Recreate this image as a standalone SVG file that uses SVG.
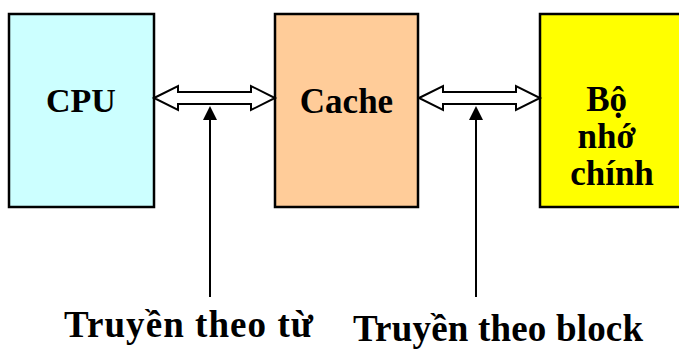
<svg xmlns="http://www.w3.org/2000/svg" width="679" height="349" viewBox="0 0 679 349">
  <style>
    .box { stroke: #000; stroke-width: 2.5; }
    .lbl { font-family: "Liberation Serif", "Times New Roman", serif; font-weight: bold; fill: #000; }
    .bus { fill: #fff; stroke: #000; stroke-width: 2; stroke-linejoin: miter; }
    .ptr { stroke: #000; stroke-width: 2; fill: none; }
    .head { fill: #000; }
  </style>
  <rect width="679" height="349" fill="#fff"/>

  <g id="cpu">
    <rect class="box" x="9" y="14" width="145" height="193" fill="#CCFFFF"/>
    <text class="lbl" x="81" y="112" font-size="34" text-anchor="middle">CPU</text>
  </g>

  <g id="cache">
    <rect class="box" x="275" y="14" width="143" height="193" fill="#FFCC99"/>
    <text class="lbl" x="346.5" y="113" font-size="35" text-anchor="middle">Cache</text>
  </g>

  <g id="main-memory">
    <rect class="box" x="540" y="14" width="150" height="193" fill="#FFFF00"/>
    <text class="lbl" font-size="35" text-anchor="middle">
      <tspan x="611" y="111">Bộ</tspan>
      <tspan x="611" y="148">nhớ</tspan>
      <tspan x="612" y="185">chính</tspan>
    </text>
  </g>

  <g id="connectors">
    <!-- CPU <-> Cache bus -->
    <polygon class="bus" points="154,98 178,86 178,92 251,92 251,86 275,98 251,110 251,104 178,104 178,110"/>
    <!-- Cache <-> main memory bus -->
    <polygon class="bus" points="419,98 443,86 443,92 516,92 516,86 540,98 516,110 516,104 443,104 443,110"/>
    <!-- pointers from the labels up to the buses -->
    <line class="ptr" x1="210" y1="297" x2="210" y2="118"/>
    <polygon class="head" points="210,106 203,120 217,120"/>
    <line class="ptr" x1="476" y1="297" x2="476" y2="118"/>
    <polygon class="head" points="476,106 469,120 483,120"/>
  </g>

  <g id="label-word">
    <text class="lbl" x="64" y="337" font-size="37" textLength="249" lengthAdjust="spacing">Truyền theo từ</text>
  </g>
  <g id="label-block">
    <text class="lbl" x="353" y="341" font-size="37" textLength="290" lengthAdjust="spacing">Truyền theo block</text>
  </g>
</svg>
